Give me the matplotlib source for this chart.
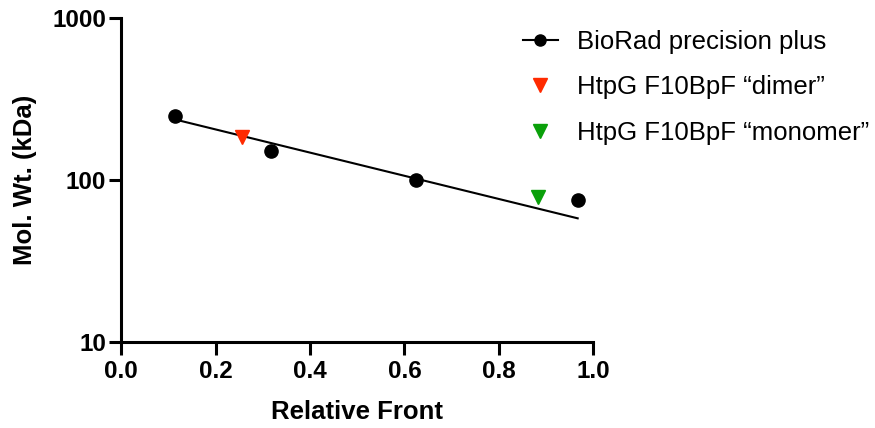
import matplotlib
matplotlib.use("Agg")
import matplotlib.pyplot as plt

plt.rcParams["font.family"] = ["Liberation Sans", "DejaVu Sans"]

# standards ladder (relative front, kDa)
ladder_rf = [0.114, 0.318, 0.6235, 0.967]
ladder_kda = [249, 150, 100, 75]

# fitted standard curve at both ends
fit_rf = [0.12, 0.967]
fit_kda = [234, 58]

dimer_rf = [0.2566]
dimer_kda = [185]
monomer_rf = [0.883]
monomer_kda = [79]

x_ticks = [0.0, 0.2, 0.4, 0.6, 0.8, 1.0]
y_ticks = [10, 100, 1000]

fig = plt.figure(figsize=(8.75, 4.28), dpi=100)
ax = fig.add_axes([0.1386, 0.2009, 0.678 - 0.1386, 0.958 - 0.2009])

ax.plot(fit_rf, fit_kda, color="black", linewidth=1.5, zorder=2)
ax.plot(ladder_rf, ladder_kda, "o", color="black", markersize=9.5, zorder=3)
# legend handle for the ladder: marker with line
ax.plot([], [], "-o", color="black", markersize=8, linewidth=1.5, label="BioRad precision plus")
ax.plot(dimer_rf, dimer_kda, "v", color="#ff2a00", markersize=9.5, zorder=3,
        label="HtpG F10BpF \u201cdimer\u201d")
ax.plot(monomer_rf, monomer_kda, "v", color="#0aa00a", markersize=9.5, zorder=3,
        label="HtpG F10BpF \u201cmonomer\u201d")

ax.set_yscale("log")
ax.set_xlim(0, 1.0)
ax.set_ylim(10, 1000)
ax.set_xticks(x_ticks)
ax.set_xticklabels([f"{v:.1f}" for v in x_ticks])
ax.set_yticks(y_ticks)
ax.set_yticklabels([str(v) for v in y_ticks])
ax.minorticks_off()

for s in ["top", "right"]:
    ax.spines[s].set_visible(False)
for s in ["left", "bottom"]:
    ax.spines[s].set_linewidth(2.2)

ax.tick_params(axis="both", which="major", length=9, width=2.2, labelsize=17.5)
ax.tick_params(axis="x", pad=4)
ax.tick_params(axis="y", pad=2)
for lab in ax.get_xticklabels() + ax.get_yticklabels():
    lab.set_fontweight("bold")

ax.set_xlabel("Relative Front", fontsize=18.5, fontweight="bold", labelpad=12)
ax.set_ylabel("Mol. Wt. (kDa)", fontsize=18.5, fontweight="bold", labelpad=11)

handles, labels = ax.get_legend_handles_labels()
leg = fig.legend(handles, labels, loc="upper left", bbox_to_anchor=(0.586, 0.955),
                 frameon=False, fontsize=18.5, handlelength=1.35, handletextpad=0.75,
                 labelspacing=0.84, borderaxespad=0)

fig.savefig("out.png", dpi=100)
